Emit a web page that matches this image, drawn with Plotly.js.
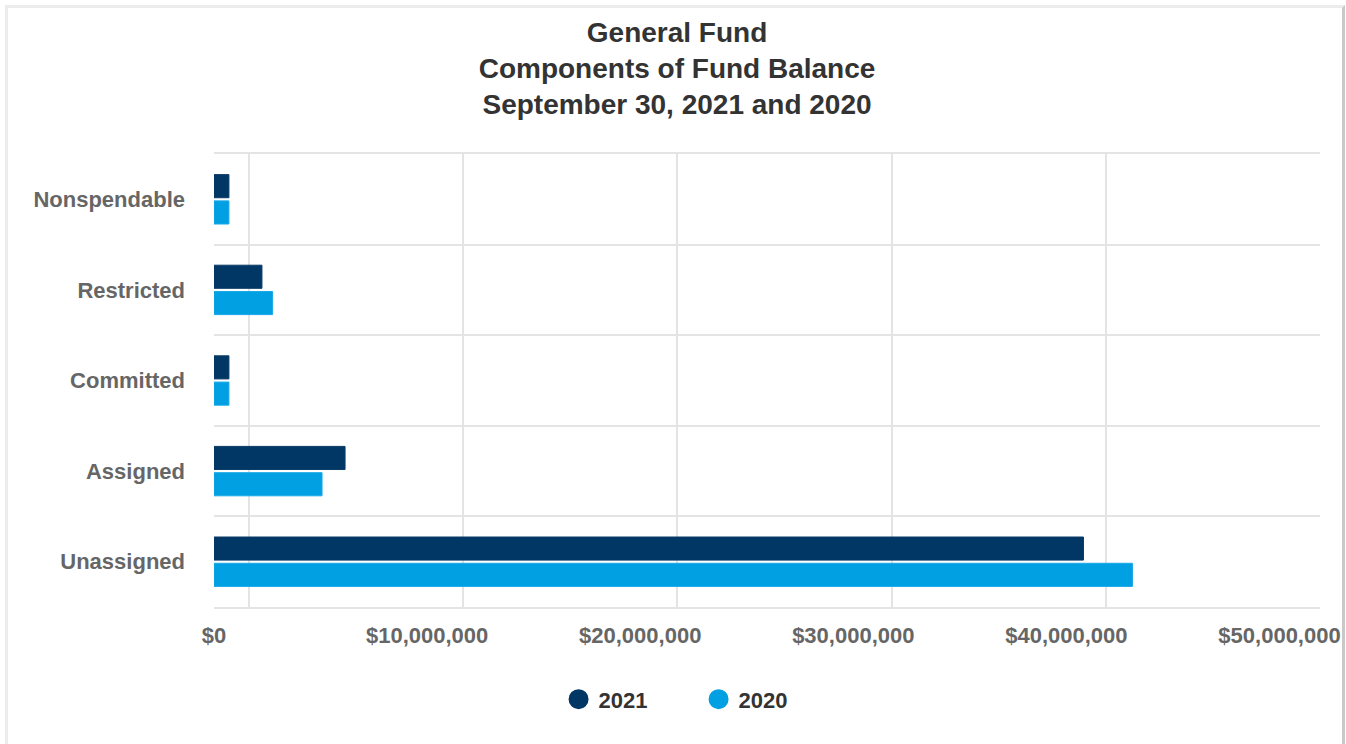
<!DOCTYPE html>
<html>
<head>
<meta charset="utf-8">
<script src="https://cdn.plot.ly/plotly-3.0.1.min.js"></script>
<style>
  html, body { margin: 0; padding: 0; background: #ffffff; overflow: hidden; }
  #chart { position: absolute; left: 0; top: 0; width: 1346px; height: 744px; }
  #frame { position: absolute; left: 5px; top: 5px; width: 1334px; height: 800px;
           border: 3px solid #ececec; border-right-color: #c8c8c8; pointer-events: none; }
</style>
</head>
<body>
<div id="chart"></div>
<div id="frame"></div>
<script>
// Data (values in US dollars)
const categories = ["Nonspendable", "Restricted", "Committed", "Assigned", "Unassigned"];
const values2021 = [700000, 2250000, 700000, 6150000, 40800000];
const values2020 = [700000, 2750000, 700000, 5070000, 43100000];
const seriesNames = ["2021", "2020"];
const seriesColors = ["#003764", "#00a0e3"];
const tickValues = [0, 10000000, 20000000, 30000000, 40000000, 50000000];
const tickLabels = ["$0", "$10,000,000", "$20,000,000", "$30,000,000", "$40,000,000", "$50,000,000"];

const FONT = "Liberation Sans, Arial, Helvetica, sans-serif";

const traces = [
  {
    type: "bar", orientation: "h", name: seriesNames[0],
    y: categories, x: values2021,
    marker: { color: seriesColors[0], line: { color: "#0a3a66", width: 1 } },
    showlegend: false, hoverinfo: "x+y"
  },
  {
    type: "bar", orientation: "h", name: seriesNames[1],
    y: categories, x: values2020,
    marker: { color: seriesColors[1], line: { color: "#1aa8e8", width: 1 } },
    showlegend: false, hoverinfo: "x+y"
  },
  // legend entries (circle symbols), attached to the back-wall grid axis
  {
    type: "scatter", mode: "markers", name: seriesNames[0],
    x: [null], y: [null], xaxis: "x2",
    marker: { color: seriesColors[0], size: 24, symbol: "circle",
              line: { color: seriesColors[0], width: 4 } }
  },
  {
    type: "scatter", mode: "markers", name: seriesNames[1],
    x: [null], y: [null], xaxis: "x2",
    marker: { color: seriesColors[1], size: 24, symbol: "circle",
              line: { color: seriesColors[1], width: 4 } }
  }
];

const layout = {
  width: 1346, height: 744,
  paper_bgcolor: "#ffffff", plot_bgcolor: "#ffffff",
  margin: { l: 214, r: 26, t: 154, b: 137 },
  font: { family: FONT, size: 22, color: "#666666", weight: "bold" },
  title: {
    text: "General Fund<br>Components of Fund Balance<br>September 30, 2021 and 2020",
    font: { family: FONT, size: 28, color: "#333333", weight: "bold" },
    x: 0.503, xref: "container", xanchor: "center",
    y: 0.944, yref: "container", yanchor: "top"
  },
  barmode: "group",
  bargap: 0.42,
  bargroupgap: 0.12,
  xaxis: {
    range: [0, 51900000],
    tickvals: tickValues,
    ticktext: tickLabels,
    showgrid: false, zeroline: false,
    showline: true, mirror: true, linecolor: "#e4e4e4", linewidth: 2,
    ticks: "outside", ticklen: 8, tickcolor: "rgba(0,0,0,0)",
    tickfont: { family: FONT, size: 22, color: "#666666", weight: "bold" },
    fixedrange: true
  },
  xaxis2: {
    overlaying: "x", side: "bottom",
    range: [-1640000, 50000000],
    tickvals: tickValues,
    showticklabels: false, ticks: "",
    showgrid: true, gridcolor: "#e4e4e4", gridwidth: 2,
    zeroline: false, showline: false, fixedrange: true
  },
  yaxis: {
    type: "category",
    categoryorder: "array", categoryarray: categories,
    autorange: "reversed",
    tickson: "boundaries",
    showgrid: true, gridcolor: "#e4e4e4", gridwidth: 2,
    zeroline: false, showline: false,
    ticks: "",
    ticklabelstandoff: 28,
    tickfont: { family: FONT, size: 22, color: "#666666", weight: "bold" },
    fixedrange: true
  },
  legend: {
    orientation: "h",
    xref: "container", x: 0.519, xanchor: "center",
    yref: "container", y: 0.06, yanchor: "middle",
    font: { family: FONT, size: 22, color: "#333333", weight: "bold" },
    itemsizing: "trace",
    entrywidth: 95, entrywidthmode: "pixels",
    bgcolor: "rgba(0,0,0,0)"
  },
  hovermode: "closest"
};

Plotly.newPlot("chart", traces, layout, { displayModeBar: false, staticPlot: true });
</script>
</body>
</html>
